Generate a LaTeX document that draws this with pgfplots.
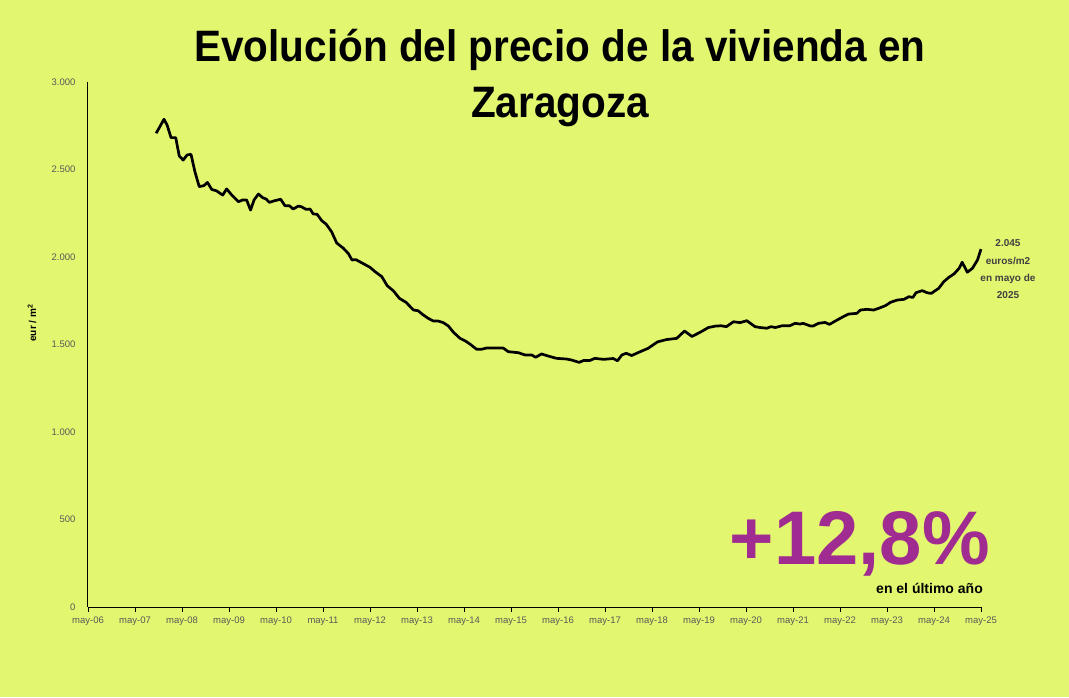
\documentclass[border=0pt]{standalone}
\usepackage{fontspec}
\setmainfont{Liberation Sans}
\newfontfamily\titlefont[FakeStretch=0.92]{Liberation Sans}
\usepackage{pgfplots}
\pgfplotsset{compat=1.18}
\definecolor{bg}{RGB}{226,246,112}
\definecolor{ticklab}{RGB}{89,89,89}
\definecolor{annot}{RGB}{64,64,64}
\definecolor{purp}{RGB}{160,43,145}
\begin{document}
\begin{tikzpicture}[x=1pt,y=1pt]
\fill[bg] (0,0) rectangle (1069,697);
\useasboundingbox (0,0) rectangle (1069,697);
\begin{axis}[
  at={(88pt,90pt)}, anchor=south west,
  scale only axis, width=893pt, height=525pt,
  xmin=0, xmax=228, ymin=0, ymax=3000,
  axis x line*=bottom, axis y line*=left,
  axis line style={black, line width=1pt},
  xtick={0,12,...,228},
  xticklabels={may-06,may-07,may-08,may-09,may-10,may-11,may-12,may-13,may-14,may-15,may-16,may-17,may-18,may-19,may-20,may-21,may-22,may-23,may-24,may-25},
  ytick={0,500,...,3000},
  tick align=outside,
  major tick length=5pt,
  xtick style={black, line width=0.8pt},
  ytick style={draw=none},
  ticklabel style={font=\fontsize{9.5}{11}\selectfont, text=ticklab},
  xticklabel style={yshift=-1pt},
  yticklabel style={xshift=-4pt},
  /pgf/number format/.cd, 1000 sep={.}, assume math mode=true,
  /pgfplots/.cd,
  ylabel={eur / m\textsuperscript{2}},
  ylabel style={font=\bfseries\fontsize{10}{12}\selectfont, at={(axis description cs:-0.0627,0.541)}, anchor=center, rotate=0},
  clip=false,
]
\addplot[black, line width=2.7pt, line join=round] coordinates {
(17.4,2707) (19.4,2787) (20.2,2754) (21.2,2682) (22.4,2682) (23.3,2577) (24.3,2554) (25.3,2583) (26.3,2587) (27.3,2487)
(28.4,2402) (29.6,2408) (30.5,2426) (31.6,2386) (32.8,2378) (34.4,2354) (35.4,2389) (36.7,2354) (38.4,2316) (39.5,2326)
(40.5,2326) (41.5,2268) (42.4,2326) (43.5,2360) (44.6,2339) (45.5,2331) (46.3,2312) (47.7,2322) (49.2,2330) (50.3,2293)
(51.4,2293) (52.4,2274) (53.7,2291) (54.5,2287) (55.7,2272) (56.7,2274) (57.5,2246) (58.5,2244) (59.7,2207) (60.8,2188)
(62.2,2144) (63.5,2080) (65.2,2050) (66.5,2019) (67.4,1983) (68.4,1985) (72.0,1941) (73.3,1916) (75.0,1888) (76.4,1836)
(78.0,1806) (79.5,1764) (81.2,1741) (83.1,1697) (84.3,1693) (85.4,1672) (86.9,1649) (88.2,1634) (89.4,1634) (90.7,1625)
(92.0,1606) (93.3,1570) (95.0,1535) (96.2,1522) (97.5,1503) (99.2,1473) (100.5,1473) (101.8,1480) (106.0,1480) (107.3,1459)
(109.9,1453) (111.6,1440) (113.3,1440) (114.3,1427) (115.8,1446) (117.5,1434) (119.6,1421) (122.2,1417) (123.5,1411) (125.4,1398)
(126.6,1409) (128.2,1409) (129.4,1421) (131.6,1415) (134.1,1420) (135.2,1407) (136.3,1440) (137.4,1450) (138.8,1437) (141.0,1459)
(143.0,1478) (145.4,1515) (147.7,1528) (150.3,1535) (152.3,1577) (154.2,1546) (156.3,1570) (158.4,1597) (160.2,1605) (161.6,1607)
(163.0,1602) (164.8,1630) (166.5,1625) (168.2,1636) (170.3,1602) (171.6,1597) (173.3,1593) (174.4,1602) (175.5,1597) (177.2,1607)
(179.2,1607) (180.5,1621) (181.8,1617) (182.6,1621) (184.4,1606) (185.2,1606) (186.5,1621) (188.2,1626) (189.3,1615) (190.8,1634)
(192.5,1655) (194.2,1674) (196.3,1678) (197.2,1697) (198.9,1701) (200.6,1697) (201.9,1707) (203.6,1722) (204.9,1741) (206.6,1754)
(208.3,1758) (209.6,1773) (210.6,1769) (211.4,1796) (213.0,1808) (214.2,1796) (215.3,1792) (217.2,1821) (218.5,1859) (219.8,1884)
(221.1,1903) (222.4,1935) (223.2,1970) (224.5,1913) (225.8,1935) (227.1,1983) (228.0,2045)
};
\end{axis}
% title
\node[anchor=base, font=\titlefont\bfseries\fontsize{44}{50}\selectfont] at (560,635.3) {Evolución del precio de la vivienda en};
\node[anchor=base, font=\titlefont\bfseries\fontsize{44}{50}\selectfont] at (560,579) {Zaragoza};
% annotations
\node[anchor=base, text=annot, font=\bfseries\fontsize{10}{12}\selectfont] at (1008,450.3) {2.045};
\node[anchor=base, text=annot, font=\bfseries\fontsize{10}{12}\selectfont] at (1008,432.7) {euros/m2};
\node[anchor=base, text=annot, font=\bfseries\fontsize{10}{12}\selectfont] at (1008,415.3) {en mayo de};
\node[anchor=base, text=annot, font=\bfseries\fontsize{10}{12}\selectfont] at (1008,398) {2025};
\node[anchor=base east, inner sep=0pt, text=purp, font=\bfseries\fontsize{76}{80}\selectfont] at (990,132) {+12,8\%};
\node[anchor=base east, inner sep=0pt, font=\bfseries\fontsize{14}{16}\selectfont] at (983,104) {en el último año};
\end{tikzpicture}
\end{document}
